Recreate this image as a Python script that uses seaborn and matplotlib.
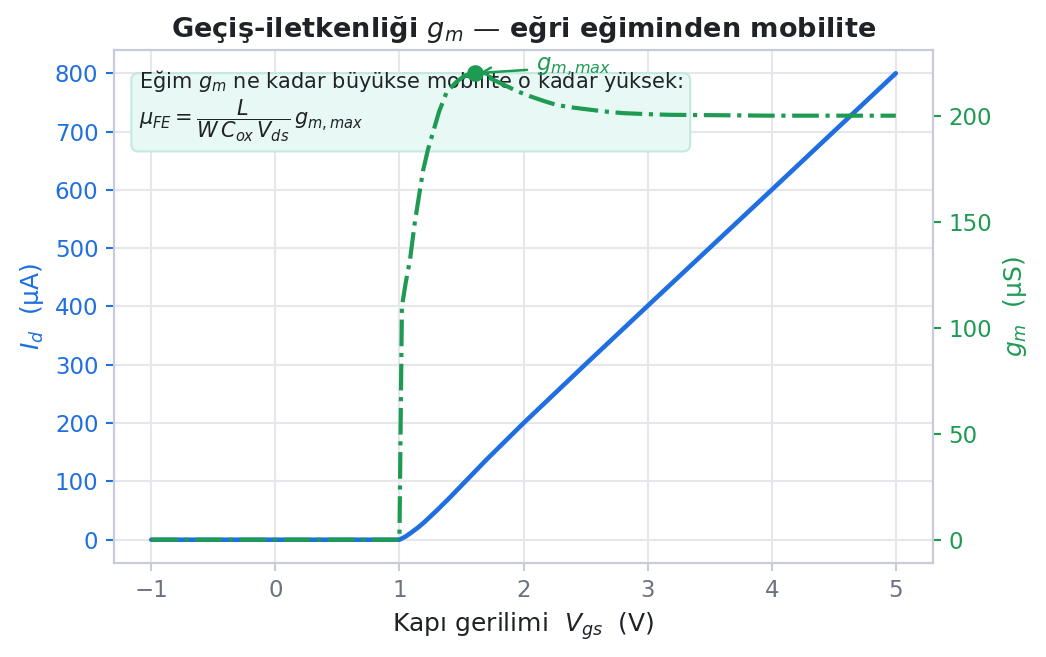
import numpy as np
import pandas as pd
import matplotlib
matplotlib.use("Agg")
import matplotlib.pyplot as plt
from matplotlib.ticker import MultipleLocator
import seaborn as sns

# ---- data ----
vgs_id = [-1.0, 0.0, 1.0, 1.05, 1.1, 1.15, 1.2, 1.25, 1.3, 1.4, 1.5, 1.6, 1.7, 1.8, 1.9, 2.0,
          2.5, 3.0, 4.0, 5.0]
id_ua = [0.0, 0.0, 0.0, 5.5, 13, 21, 30, 40, 50, 71, 93, 115, 137, 158, 179, 200,
         301, 401, 600, 800]

vgs_gm = [-1.0, 0.0, 1.0, 1.02, 1.05, 1.085, 1.125, 1.16, 1.19, 1.23, 1.27, 1.32, 1.38, 1.46,
          1.53, 1.61, 1.70, 1.84, 1.95, 2.06, 2.17, 2.27, 2.40, 2.51, 2.65, 2.80, 3.0, 3.18, 4.0, 5.0]
gm_us = [0.0, 0.0, 0.0, 110, 121, 132, 150, 163, 174, 184, 192, 202, 211, 216,
         219, 220, 218.5, 214.6, 211.5, 209, 206.8, 205, 203.8, 203, 202, 201.2, 200.7, 200.4, 200, 200]

peak_v = 1.61
peak_gm = 220

df_id = pd.DataFrame({"Vgs": vgs_id, "Id": id_ua})
df_gm = pd.DataFrame({"Vgs": vgs_gm, "gm": gm_us})

BLUE = "#1f6fe0"
GREEN = "#1e9b52"
DARK = "#1f2328"
GRAY = "#6b7280"
SPINE = "#c8ccd6"
GRID = "#e5e7eb"

sns.set_theme(style="whitegrid")
plt.rcParams["font.family"] = ["DejaVu Sans"]

fig = plt.figure(figsize=(1046 / 150, 657 / 150), dpi=150)
ax = fig.add_axes([0.109, 0.143, 0.783, 0.781])

sns.lineplot(data=df_id, x="Vgs", y="Id", ax=ax, color=BLUE, linewidth=2.2, zorder=3)

ax2 = ax.twinx()
sns.lineplot(data=df_gm, x="Vgs", y="gm", ax=ax2, color=GREEN, linewidth=2.0,
             linestyle="-.", zorder=3)
ax2.plot([peak_v], [peak_gm], "o", color=GREEN, markersize=7, zorder=5)
ax2.annotate(r"$g_{m,max}$", xy=(peak_v, peak_gm), xytext=(2.1, 223),
             color=GREEN, fontsize=11, va="center", ha="left",
             arrowprops=dict(arrowstyle="->", color=GREEN, lw=1.2))

ax.set_xlim(-1.3, 5.3)
ax.set_ylim(-40, 840)
ax2.set_ylim(-11, 231)
ax.yaxis.set_major_locator(MultipleLocator(100))
ax.xaxis.set_major_locator(MultipleLocator(1))
ax2.yaxis.set_major_locator(MultipleLocator(50))

ax.grid(True, color=GRID, linewidth=1.0)
ax2.grid(False)
ax.set_facecolor("white")

for a in (ax, ax2):
    for s in a.spines.values():
        s.set_color(SPINE)
        s.set_linewidth(1.0)

ax.tick_params(axis="y", colors=BLUE, labelsize=11, length=4, width=1, left=True)
ax.tick_params(axis="x", colors=GRAY, labelsize=11, length=4, width=1, bottom=True)
ax.tick_params(axis="x", labelcolor=GRAY, color=SPINE)
ax2.tick_params(axis="y", colors=GREEN, labelsize=11, length=4, width=1, right=True)

ax.set_xlabel(r"Kapı gerilimi  $V_{gs}$  (V)", color=DARK, fontsize=12)
ax.set_ylabel(r"$I_d$  (µA)", color=BLUE, fontsize=12)
ax2.set_ylabel(r"$g_m$  (µS)", color=GREEN, fontsize=12)
ax.set_title(r"Geçiş-iletkenliği $g_m$ — eğri eğiminden mobilite", color=DARK,
             fontsize=13, fontweight="bold")

ax.text(0.03, 0.965,
        "Eğim $g_m$ ne kadar büyükse mobilite o kadar yüksek:\n"
        r"$\mu_{FE} = \dfrac{L}{W\,C_{ox}\,V_{ds}}\,g_{m,max}$",
        transform=ax.transAxes, ha="left", va="top", fontsize=10, color=DARK,
        linespacing=1.15,
        bbox=dict(boxstyle="round,pad=0.35", facecolor="#e8f8f4", edgecolor="#c3e9e0",
                  linewidth=1.0))

fig.savefig("out.png", dpi=150)
